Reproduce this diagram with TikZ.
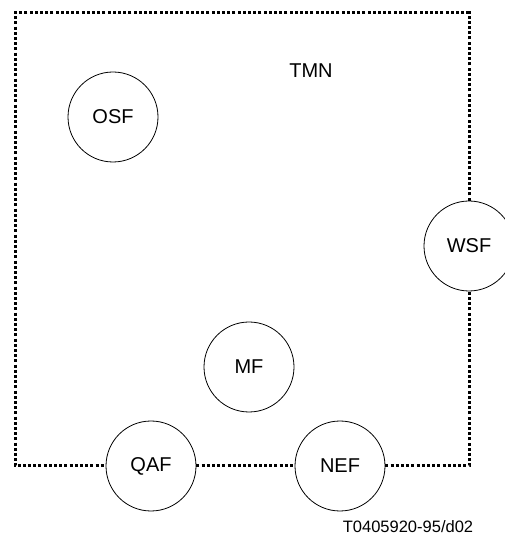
\documentclass[tikz,border=0pt]{standalone}
\usepackage{fontspec}
\setmainfont{Liberation Sans}
\usepackage{tikz}
\usetikzlibrary{positioning}

\begin{document}
\begin{tikzpicture}[x=1pt, y=1pt,
  func/.style={draw, circle, line width=0.8pt, minimum size=90pt, inner sep=0pt, font=\fontsize{20}{24}\selectfont},
  border/.style={line width=3pt, dash pattern=on 3pt off 2.2pt}]
\useasboundingbox (0,0) rectangle (504,536);
\node[font=\fontsize{20}{24}\selectfont] (tmn) at (311,465) {TMN};
\node[func] (osf) at (113,419) {OSF};
\node[func] (wsf) at (469,290) {WSF};
\node[func] (mf) at (249,169) {MF};
\node[func] (qaf) at (151,70) {QAF};
\node[func] (nef) at (340,70) {NEF};
\coordinate (tl) at (15,523);
\coordinate (tr) at (469,523);
\coordinate (bl) at (15,70);
\coordinate (br) at (469,70);
\draw[border] (qaf) -- (nef);
\draw[border] (nef) -- (br) -- (wsf);
\draw[border] (wsf) -- (tr) -- (tl) -- (bl) -- (qaf);
\node[font=\fontsize{16.5}{20}\selectfont] (ref) at (408,9) {T0405920-95/d02};
\end{tikzpicture}
\end{document}
